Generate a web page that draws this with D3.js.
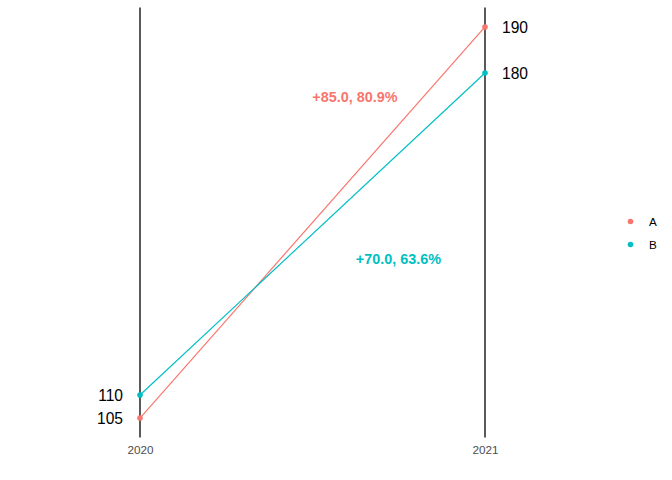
<!DOCTYPE html>
<html>
<head>
<meta charset="utf-8">
<script src="https://cdn.jsdelivr.net/npm/d3@7"></script>
<style>
  body { margin: 0; background: #fff; }
  text { font-family: "Liberation Sans", Arial, sans-serif; }
</style>
</head>
<body>
<svg id="chart" width="672" height="480"></svg>
<script>
const years = [2020, 2021];
const groups = ['A', 'B'];
const valuesA = [105, 190];
const valuesB = [110, 180];
const colors = ['#F8766D', '#00BFC4'];

// change labels and where they sit (in data units)
const changeLabels = ['+85.0, 80.9%', '+70.0, 63.6%'];
const labelX = [2020.623, 2020.749];
const labelY = [174.8, 139.6];

const series = [valuesA, valuesB];

const svg = d3.select('#chart');

const x = d3.scaleLinear().domain([2020, 2021]).range([140, 485]);

const allVals = valuesA.concat(valuesB);
const lo = d3.min(allVals);
const hi = d3.max(allVals);
const pad = (hi - lo) * 0.05;
const y = d3.scaleLinear().domain([lo - pad, hi + pad]).range([437.6, 7.4]);

//
// VERTICAL YEAR LINES
//

svg.append('g')
  .selectAll('line')
  .data(years)
  .join('line')
  .attr('x1', (d) => x(d))
  .attr('x2', (d) => x(d))
  .attr('y1', y.range()[0])
  .attr('y2', y.range()[1])
  .attr('stroke', '#000')
  .attr('stroke-width', 1.3);

//
// X AXIS LABELS
//

const xAxis = svg.append('g')
  .attr('transform', `translate(0,${y.range()[0]})`)
  .call(d3.axisBottom(x).tickValues(years).tickFormat(d3.format('d')).tickSize(0).tickPadding(8));
xAxis.select('.domain').remove();
xAxis.selectAll('text')
  .attr('fill', '#4d4d4d')
  .style('font-size', '11.7px')
  .style('font-family', '"Liberation Sans", Arial, sans-serif');

//
// SLOPE LINES + POINTS
//

const line = d3.line()
  .x((d, i) => x(years[i]))
  .y((d) => y(d));

series.forEach((vals, k) => {
  svg.append('path')
    .datum(vals)
    .attr('fill', 'none')
    .attr('stroke', colors[k])
    .attr('stroke-width', 1.2)
    .attr('d', line);

  svg.append('g')
    .selectAll('circle')
    .data(vals)
    .join('circle')
    .attr('cx', (d, i) => x(years[i]))
    .attr('cy', (d) => y(d))
    .attr('r', 2.8)
    .attr('fill', colors[k]);

  // start value on the left
  svg.append('text')
    .attr('x', x(years[0]) - 17)
    .attr('y', y(vals[0]))
    .attr('dy', '0.36em')
    .attr('text-anchor', 'end')
    .style('font-size', '15.6px')
    .attr('fill', '#000')
    .text(vals[0]);

  // end value on the right
  svg.append('text')
    .attr('x', x(years[1]) + 17)
    .attr('y', y(vals[1]))
    .attr('dy', '0.36em')
    .style('font-size', '15.6px')
    .attr('fill', '#000')
    .text(vals[1]);

  // change label
  svg.append('text')
    .attr('x', x(labelX[k]))
    .attr('y', y(labelY[k]))
    .attr('dy', '0.36em')
    .attr('text-anchor', 'middle')
    .style('font-size', '14.4px')
    .style('font-weight', 'bold')
    .attr('fill', colors[k])
    .text(changeLabels[k]);
});

//
// LEGEND
//

const legend = svg.append('g').attr('transform', 'translate(630.5,221.5)');

groups.forEach((g, i) => {
  legend.append('circle')
    .attr('cx', 0)
    .attr('cy', i * 23)
    .attr('r', 2.8)
    .attr('fill', colors[i]);
  legend.append('text')
    .attr('x', 18.5)
    .attr('y', i * 23)
    .attr('dy', '0.36em')
    .style('font-size', '11.7px')
    .attr('fill', '#000')
    .text(g);
});
</script>
</body>
</html>
